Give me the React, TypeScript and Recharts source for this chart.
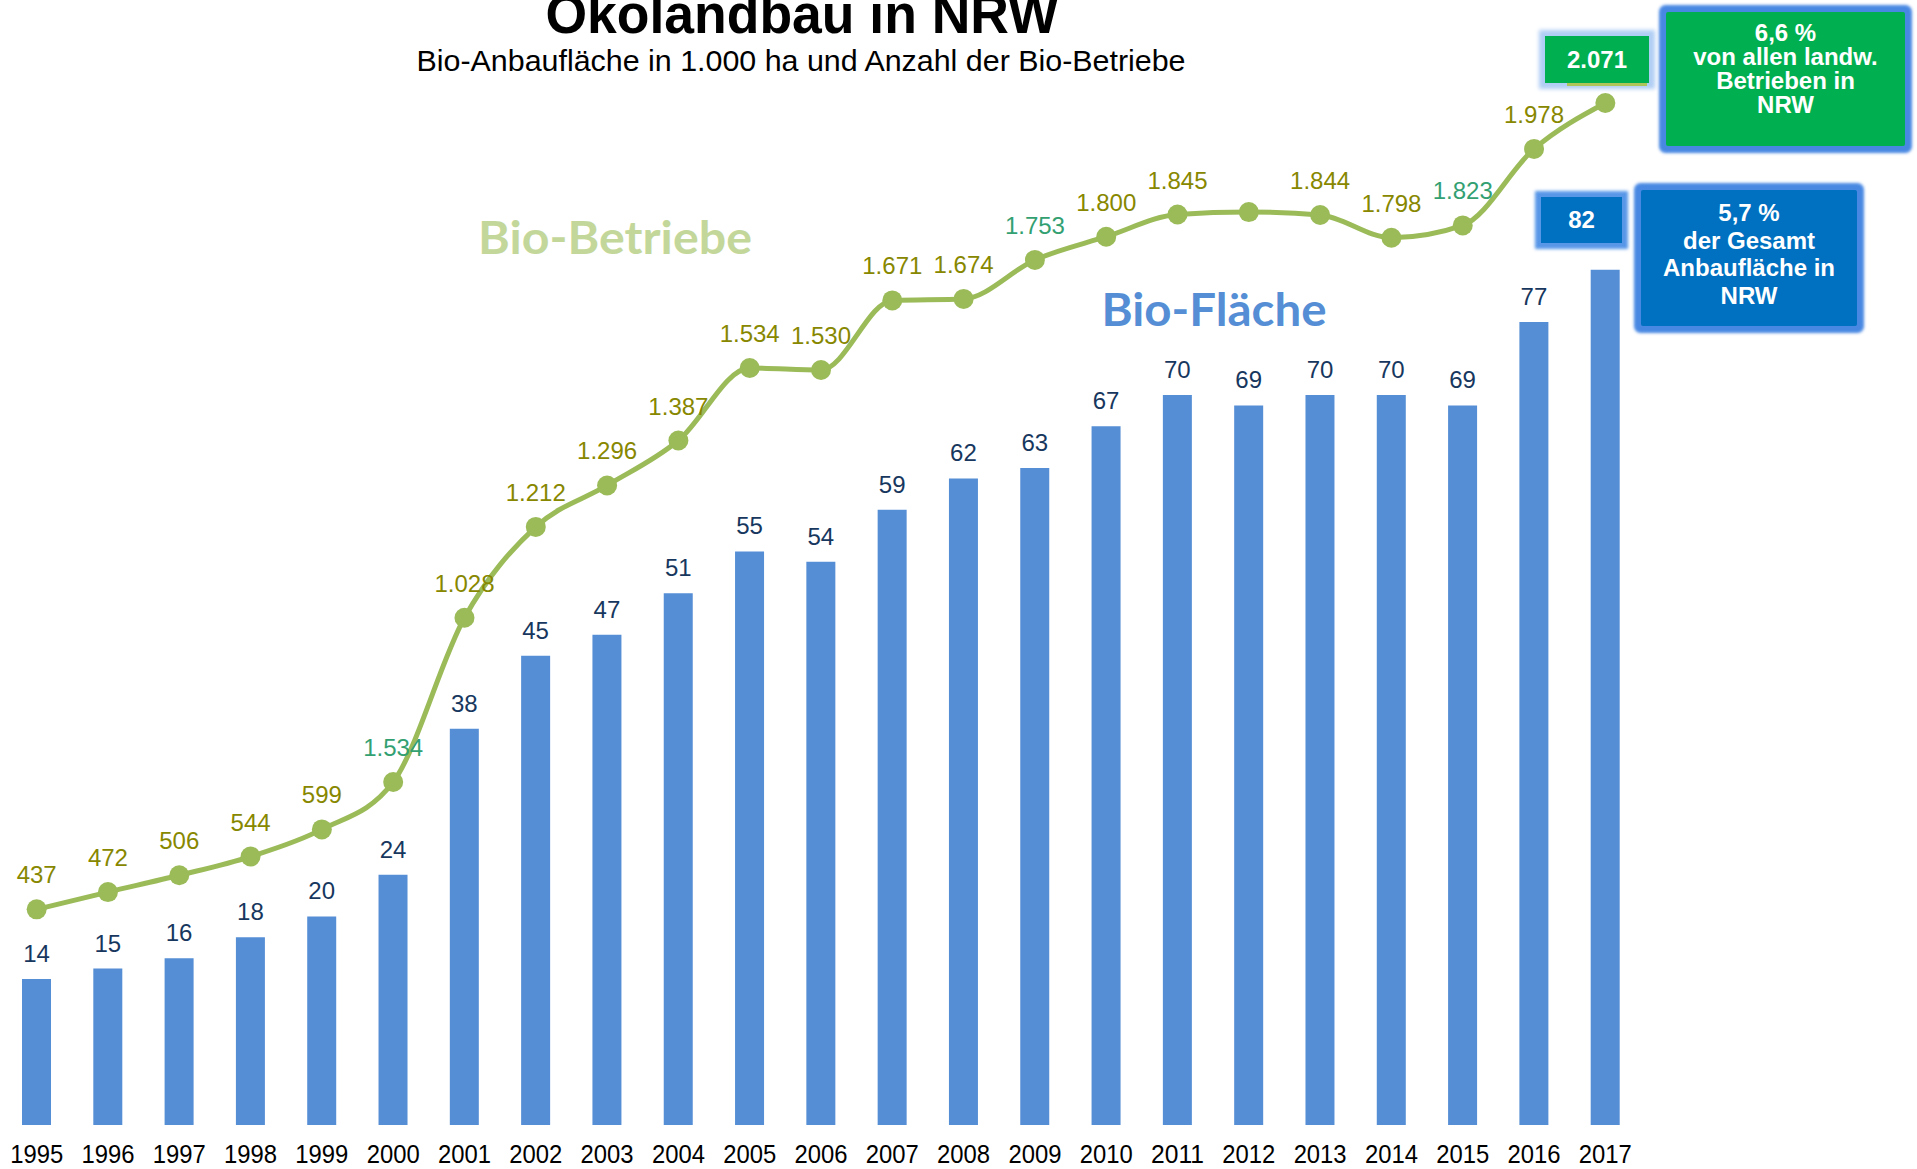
import { ComposedChart, Bar, Line, XAxis, YAxis, LabelList } from 'recharts';

const YEARS = [
  '1995', '1996', '1997', '1998', '1999', '2000', '2001', '2002', '2003', '2004', '2005', '2006',
  '2007', '2008', '2009', '2010', '2011', '2012', '2013', '2014', '2015', '2016', '2017',
];
// Bio-Anbaufläche in 1.000 ha
const AREA = [14, 15, 16, 18, 20, 24, 38, 45, 47, 51, 55, 54, 59, 62, 63, 67, 70, 69, 70, 70, 69, 77, 82];
const AREA_LABELS = [
  '14', '15', '16', '18', '20', '24', '38', '45', '47', '51', '55', '54',
  '59', '62', '63', '67', '70', '69', '70', '70', '69', '77', '',
];
// Anzahl Bio-Betriebe
const FARMS = [
  437, 472, 506, 544, 599, 695, 1028, 1212, 1296, 1387, 1534, 1530,
  1671, 1674, 1753, 1800, 1845, 1850, 1844, 1798, 1823, 1978, 2071,
];
const FARM_LABELS = [
  '437', '472', '506', '544', '599', '1.534', '1.028', '1.212', '1.296', '1.387', '1.534', '1.530',
  '1.671', '1.674', '1.753', '1.800', '1.845', '', '1.844', '1.798', '1.823', '1.978', '',
];
const TEAL_LABEL_YEARS = ['2000', '2009', '2015'];

const BAR_BLUE = '#558ED5';
const LINE_GREEN = '#9BBB59';
const OLIVE = '#878700';
const TEAL = '#33A072';
const NAVY = '#17375E';
const BOX_GREEN = '#00B050';
const BOX_BLUE = '#0070C0';
const FONT = '"Liberation Sans", Arial, sans-serif';

const data = YEARS.map((year, i) => ({
  year,
  area: AREA[i],
  areaLabel: AREA_LABELS[i],
  farms: FARMS[i],
  farmLabel: FARM_LABELS[i],
}));

function FarmLabel(props: any) {
  const { index, value } = props;
  if (!value) return null;
  const x = props.x ?? props.viewBox?.x;
  const y = props.y ?? props.viewBox?.y;
  const fill = TEAL_LABEL_YEARS.includes(YEARS[index]) ? TEAL : OLIVE;
  return (
    <text x={x} y={y - 26} textAnchor="middle" fontSize={24} fontFamily={FONT} fill={fill}>
      {value}
    </text>
  );
}

function AreaLabel(props: any) {
  const { value } = props;
  if (!value) return null;
  const x = props.x ?? props.viewBox?.x;
  const y = props.y ?? props.viewBox?.y;
  const w = props.width ?? props.viewBox?.width ?? 0;
  return (
    <text x={x + w / 2} y={y - 17} textAnchor="middle" fontSize={24} fontFamily={FONT} fill={NAVY}>
      {value}
    </text>
  );
}

function YearTick(props: any) {
  return (
    <text
      x={props.x}
      y={props.y + 38}
      textAnchor="middle"
      fontSize={25}
      fontFamily={FONT}
      fill="#000"
      textLength={53}
      lengthAdjust="spacingAndGlyphs"
    >
      {props.payload.value}
    </text>
  );
}

const boxText: React.CSSProperties = {
  position: 'absolute',
  color: '#fff',
  fontFamily: FONT,
  fontWeight: 'bold',
  fontSize: 24,
  textAlign: 'center',
  boxSizing: 'border-box',
};

export default function App() {
  return (
    <div style={{ position: 'absolute', left: 0, top: 0, width: 1917, height: 1169, overflow: 'hidden', background: '#fff' }}>
      <ComposedChart
        width={1917}
        height={1169}
        data={data}
        margin={{ top: 103, right: 276, bottom: 0, left: 1 }}
      >
        <XAxis
          dataKey="year"
          height={44}
          axisLine={false}
          tickLine={false}
          tickSize={0}
          tickMargin={0}
          interval={0}
          tick={<YearTick />}
        />
        <YAxis yAxisId="area" hide domain={[0, 98]} />
        <YAxis yAxisId="farms" hide domain={[0, 2071]} />
        <Bar yAxisId="area" dataKey="area" fill={BAR_BLUE} barSize={29} isAnimationActive={false}>
          <LabelList dataKey="areaLabel" content={<AreaLabel />} />
        </Bar>
        <Line
          yAxisId="farms"
          type="monotone"
          dataKey="farms"
          stroke={LINE_GREEN}
          strokeWidth={5}
          dot={{ r: 10, fill: LINE_GREEN, stroke: LINE_GREEN, strokeWidth: 0 }}
          activeDot={false}
          isAnimationActive={false}
        >
          <LabelList dataKey="farmLabel" content={<FarmLabel />} />
        </Line>
      </ComposedChart>

      <svg width={1917} height={1169} style={{ position: 'absolute', left: 0, top: 0, pointerEvents: 'none' }}>
        <text x={802} y={33} textAnchor="middle" fontSize={55} fontWeight="bold" fontFamily={FONT} textLength={513} lengthAdjust="spacingAndGlyphs">
          Ökolandbau in NRW
        </text>
        <text x={801} y={71} textAnchor="middle" fontSize={30} fontFamily={FONT} textLength={769} lengthAdjust="spacingAndGlyphs">
          Bio-Anbaufläche in 1.000 ha und Anzahl der Bio-Betriebe
        </text>
        <text x={615} y={254} textAnchor="middle" fontSize={46} fontWeight="bold" fontFamily="Lato, sans-serif" fill="#C4D79B" textLength={274} lengthAdjust="spacingAndGlyphs">
          Bio-Betriebe
        </text>
        <text x={1214} y={326} textAnchor="middle" fontSize={46} fontWeight="bold" fontFamily="Lato, sans-serif" fill={BAR_BLUE} textLength={225} lengthAdjust="spacingAndGlyphs">
          Bio-Fläche
        </text>
      </svg>

      <div style={{ ...boxText, left: 1545, top: 36, width: 104, height: 47, background: BOX_GREEN, boxShadow: '0 0 4px 6px rgba(150,190,240,0.75)', lineHeight: '47px' }}>
        2.071
      </div>
      <div style={{ position: 'absolute', left: 1567, top: 83, width: 80, height: 3, background: '#AFC55A' }} />
      <div style={{ ...boxText, left: 1666, top: 12, width: 239, height: 134, background: BOX_GREEN, boxShadow: '0 0 3px 7px rgba(62,130,226,0.95)', borderRadius: 2, lineHeight: '24px', paddingTop: 9 }}>
        6,6 %<br />von allen landw.<br />Betrieben in<br />NRW
      </div>
      <div style={{ ...boxText, left: 1541, top: 197, width: 81, height: 46, background: BOX_BLUE, boxShadow: '0 0 3px 6px rgba(70,140,230,0.9)', lineHeight: '46px' }}>
        82
      </div>
      <div style={{ ...boxText, left: 1641, top: 190, width: 216, height: 136, background: BOX_BLUE, boxShadow: '0 0 3px 7px rgba(62,130,226,0.95)', borderRadius: 2, lineHeight: '27.5px', paddingTop: 9 }}>
        5,7 %<br />der Gesamt<br />Anbaufläche in<br />NRW
      </div>
    </div>
  );
}
